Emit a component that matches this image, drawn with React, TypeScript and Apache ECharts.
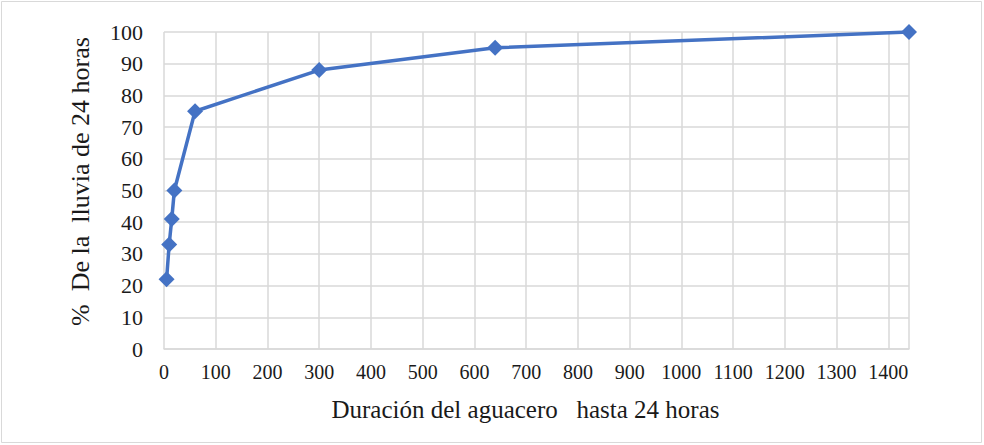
import React, { useEffect, useRef } from "react";
import * as echarts from "echarts";

// Duración (min) vs. % de la lluvia de 24 horas
const duracionMin = [5, 10, 15, 20, 60, 300, 640, 1440];
const porcentajeLluvia = [22, 33, 41, 50, 75, 88, 95, 100];
const xTicks = [0, 100, 200, 300, 400, 500, 600, 700, 800, 900, 1000, 1100, 1200, 1300, 1400];

const FONT = "Liberation Serif, Times New Roman, serif";

export default function App() {
  const ref = useRef<HTMLDivElement>(null);

  useEffect(() => {
    document.body.style.margin = "0";
    if (!ref.current) return;
    const chart = echarts.init(ref.current, undefined, { renderer: "svg" });
    chart.setOption({
      animation: false,
      backgroundColor: "#ffffff",
      textStyle: { fontFamily: FONT },
      graphic: [
        {
          type: "rect",
          shape: { x: 1.5, y: 1.5, width: 980, height: 441 },
          style: { fill: "none", stroke: "#d9d9d9", lineWidth: 1 },
          silent: true,
        },
      ],
      grid: { left: 164, top: 32, right: 75, bottom: 96, containLabel: false },
      xAxis: {
        type: "value",
        min: 0,
        max: 1440,
        interval: 100,
        name: "Duración del aguacero \u00a0 hasta 24 horas",
        nameLocation: "middle",
        nameGap: 48,
        nameTextStyle: {
          fontFamily: FONT,
          fontSize: 25,
          color: "#1a1a1a",
          padding: [0, 22, 0, 0],
        },
        axisLine: { show: true, lineStyle: { color: "#d9d9d9", width: 1.5 } },
        axisTick: { show: false },
        axisLabel: {
          fontFamily: FONT,
          fontSize: 20,
          color: "#1a1a1a",
          margin: 13,
          showMaxLabel: false,
          formatter: (v: number) => (xTicks.includes(v) ? String(v) : ""),
        },
        splitLine: { show: true, lineStyle: { color: "#d9d9d9", width: 1.5 } },
      },
      yAxis: {
        type: "value",
        min: 0,
        max: 100,
        interval: 10,
        name: "% \u00a0De la \u00a0lluvia de 24 horas",
        nameLocation: "middle",
        nameRotate: 90,
        nameGap: 71,
        nameTextStyle: {
          fontFamily: FONT,
          fontSize: 26,
          color: "#1a1a1a",
          padding: [0, 0, 0, 18],
        },
        axisLine: { show: false },
        axisTick: { show: false },
        axisLabel: { fontFamily: FONT, fontSize: 22, color: "#1a1a1a", margin: 21 },
        splitLine: { show: true, lineStyle: { color: "#d9d9d9", width: 1.5 } },
      },
      series: [
        {
          type: "line",
          data: duracionMin.map((d, i) => [d, porcentajeLluvia[i]]),
          symbol: "diamond",
          symbolSize: 16,
          showAllSymbol: true,
          lineStyle: { color: "#4472c4", width: 3.5 },
          itemStyle: { color: "#4472c4" },
          clip: false,
        },
      ],
    });
    return () => chart.dispose();
  }, []);

  return (
    <div
      ref={ref}
      style={{ position: "absolute", left: 0, top: 0, width: 984, height: 445 }}
    />
  );
}
